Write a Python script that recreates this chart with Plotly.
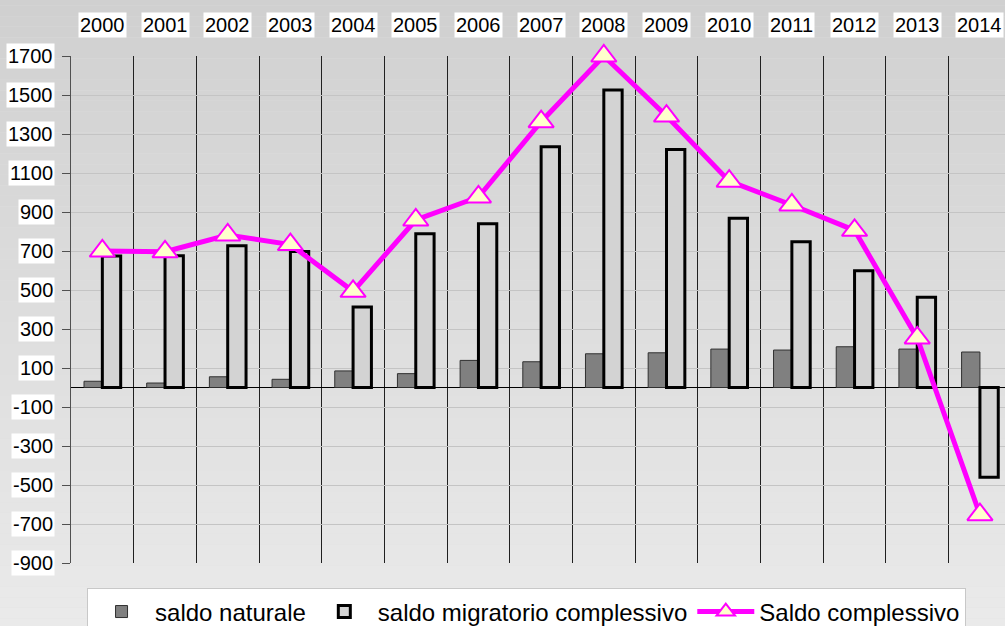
import plotly.graph_objects as go

anni = ["2000", "2001", "2002", "2003", "2004", "2005", "2006", "2007",
        "2008", "2009", "2010", "2011", "2012", "2013", "2014"]
saldo_naturale = [32, 23, 55, 42, 85, 71, 139, 132, 173, 178, 197, 192, 209, 197, 182]
saldo_migratorio = [674, 676, 727, 698, 413, 789, 840, 1235, 1526, 1220, 868, 748, 599, 463, -460]
saldo_complessivo = [700, 696, 782, 733, 493, 859, 977, 1363, 1700, 1392, 1058, 936, 806, 254, -652]
y_ticks = [1700, 1500, 1300, 1100, 900, 700, 500, 300, 100, -100, -300, -500, -700, -900]

FONT = "Liberation Sans, Arial, sans-serif"

fig = go.Figure()

fig.add_trace(go.Bar(
    x=anni, y=saldo_naturale, name="saldo naturale",
    marker=dict(color="#808080", line=dict(color="#303030", width=1))
))
fig.add_trace(go.Bar(
    x=anni, y=saldo_migratorio, name="saldo migratorio complessivo",
    marker=dict(color="#D3D3D3", line=dict(color="black", width=3))
))
fig.add_trace(go.Scatter(
    x=anni, y=saldo_complessivo, name="Saldo complessivo",
    mode="lines+markers", cliponaxis=False,
    line=dict(color="#FF00FF", width=5),
    marker=dict(symbol="triangle-up", size=22, color="#FFFFCC",
                line=dict(color="#FF00FF", width=2))
))

# background gradient (grey at top, lighter at bottom)
n_bands = 60
c_top, c_bot = 0xD0, 0xEA
shapes = []
for i in range(n_bands):
    c = round(c_top + (c_bot - c_top) * i / (n_bands - 1))
    col = "rgb(%d,%d,%d)" % (c, c, c)
    shapes.append(dict(
        type="rect", xref="paper", yref="paper", layer="below",
        x0=-0.1, x1=1.1,
        y0=1.12 - (i + 1) * 1.25 / n_bands, y1=1.12 - i * 1.25 / n_bands,
        fillcolor=col, line=dict(width=0)
    ))

annotations = []
# year labels on top in white boxes (category index on the x axis)
for i, a in enumerate(anni):
    annotations.append(dict(
        x=i, xref="x", y=1.062, yref="paper", text=a, showarrow=False,
        bgcolor="white", borderpad=1, font=dict(size=20, color="black", family=FONT),
        xanchor="center", yanchor="middle"
    ))
# y tick labels in white boxes
for v in y_ticks:
    annotations.append(dict(
        x=-0.017, xref="paper", y=v, yref="y", text=str(v), showarrow=False,
        bgcolor="white", borderpad=1, font=dict(size=20, color="black", family=FONT),
        xanchor="right", yanchor="middle"
    ))

fig.update_layout(
    width=1005, height=626,
    margin=dict(l=71, r=0, t=56, b=63, autoexpand=False),
    paper_bgcolor="#E0E0E0",
    plot_bgcolor="rgba(0,0,0,0)",
    font=dict(family=FONT, size=20, color="black"),
    barmode="group", bargap=0.415, bargroupgap=0,
    shapes=shapes, annotations=annotations,
    legend=dict(
        orientation="h", xref="container", x=0.0866, xanchor="left",
        yref="container", y=0.06, yanchor="top",
        bgcolor="white", bordercolor="#C8C8C8", borderwidth=1,
        font=dict(size=24, family=FONT, color="black"),
        itemwidth=57, traceorder="normal"
    ),
    xaxis=dict(
        type="category", range=[-0.5, 14.4], tickson="boundaries",
        showgrid=True, gridcolor="#202020", gridwidth=1,
        showticklabels=False, ticks="", showline=False, zeroline=False
    ),
    yaxis=dict(
        range=[-900, 1700], tickvals=y_ticks, showticklabels=False,
        showgrid=True, gridcolor="#C4C4C4", gridwidth=1,
        zeroline=True, zerolinecolor="black", zerolinewidth=1,
        showline=True, linecolor="#505050", linewidth=1,
        ticks="outside", ticklen=8, tickcolor="#505050"
    ),
)

fig.write_html("out.html", config={"displayModeBar": False},
               post_script="document.body.style.margin='0';")
